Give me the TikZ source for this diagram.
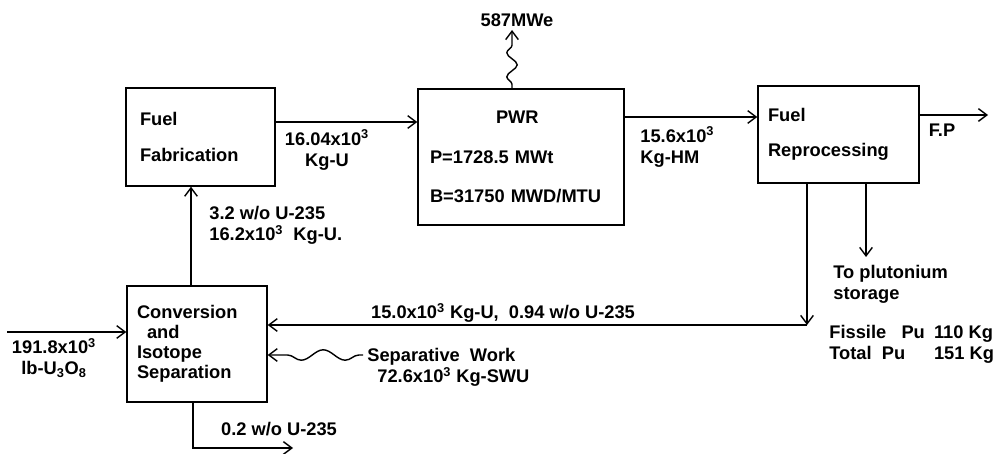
\documentclass[tikz,border=0pt]{standalone}
\usepackage{fontspec}
\setmainfont{Liberation Sans}
\usetikzlibrary{arrows.meta,positioning,calc,decorations.pathmorphing}

\begin{document}
\begin{tikzpicture}[font=\bfseries\fontsize{13}{15}\selectfont, >={Straight Barb[length=6pt,width=9pt]}, line width=1pt,
  box/.style={draw, rectangle, align=left, inner ysep=0pt},
  wave/.style={decorate, decoration={snake, amplitude=1.3mm, segment length=#1, pre length=1mm, post length=2mm}}]
\useasboundingbox (0,0) rectangle (24.95,11.35);
% process boxes
\node[box, text width=3.025cm, inner xsep=0.35cm, minimum height=2.45cm] (fab) at (5.0125,7.925) {Fuel\\[11pt]Fabrication};
\node[box, text width=4.55cm, inner xsep=0.3cm, minimum height=3.4cm] (pwr) at (13.025,7.425) {\hspace*{1.65cm}PWR\\[13pt]P=1728.5 MWt\\[13pt]B=31750 MWD/MTU};
\node[box, text width=3.525cm, inner xsep=0.25cm, minimum height=2.425cm] (rep) at (20.9625,7.9875) {Fuel\\[10pt]Reprocessing};
\node[box, text width=3.0cm, inner xsep=0.25cm, minimum height=2.9cm, font=\bfseries\fontsize{13}{14.2}\selectfont] (conv) at (4.925,2.75) {Conversion\\\hspace*{0.25cm}and\\Isotope\\Separation};
% free ends
\coordinate (fpend) at (24.7,8.475);
\coordinate (mwe) at (12.8,10.6);
\coordinate (feed) at (0.175,3.05);
\coordinate (back) at (20.175,3.225);
\coordinate (pu) at (21.65,4.925);
\coordinate (swu) at (9.075,2.475);
\coordinate (tails) at (4.825,0.15);
\coordinate (tailsend) at (7.325,0.15);
% material flows
\draw[->] (fab.east |- 0,8.3) -- (pwr.west |- 0,8.3);
\draw[->] (pwr.east |- 0,8.425) -- (rep.west |- 0,8.425);
\draw[->] (rep.east |- fpend) -- (fpend);
\draw[->, wave=0.6cm] (pwr.north -| mwe) -- (mwe);
\draw[->] (conv.north -| 4.775,0) -- (fab.south -| 4.775,0);
\draw[->] (feed) -- (conv.west |- feed);
\draw[->] (rep.south -| back) -- (back);
\draw[->] (back) -- (conv.east |- back);
\draw[->] (rep.south -| pu) -- (pu);
\draw[->, wave=1.1cm] (swu) -- (conv.east |- swu);
\draw[->] (conv.south -| tails) -- (tails) -- (tailsend);
% labels
\node (mwelbl) at (12.925,10.85) {587MWe};
\node[align=center] (fablbl) at (8.175,7.6) {16.04x10\textsuperscript{3}\\Kg-U};
\node[align=left, anchor=west] (hmlbl) at (15.875,7.675) {15.6x10\textsuperscript{3}\\Kg-HM};
\node (fplbl) at (23.55,8.1) {F.P};
\node[align=left, anchor=west] (enrlbl) at (5.1,5.72) {3.2 w/o U-235\\16.2x10\textsuperscript{3}~~Kg-U.};
\node[align=center] (feedlbl) at (1.35,2.4) {191.8x10\textsuperscript{3}\\lb-U\textsubscript{3}O\textsubscript{8}};
\node (backlbl) at (12.575,3.525) {15.0x10\textsuperscript{3} Kg-U,~~0.94 w/o U-235};
\node[align=left, anchor=west] (swulbl) at (9.05,2.175) {Separative~~Work\\\hspace*{0.25cm}72.6x10\textsuperscript{3}~Kg-SWU};
\node (tailslbl) at (6.975,0.625) {0.2 w/o U-235};
\node[align=left, anchor=west] (stor) at (20.7,4.25) {To plutonium\\storage};
\node[anchor=west] (pulbl) at (20.6,2.725) {\begin{tabular}{@{}l@{\hspace{0.5em}}l@{}}Fissile~~~Pu & 110 Kg\\Total~~Pu & 151 Kg\end{tabular}};
\end{tikzpicture}
\end{document}
